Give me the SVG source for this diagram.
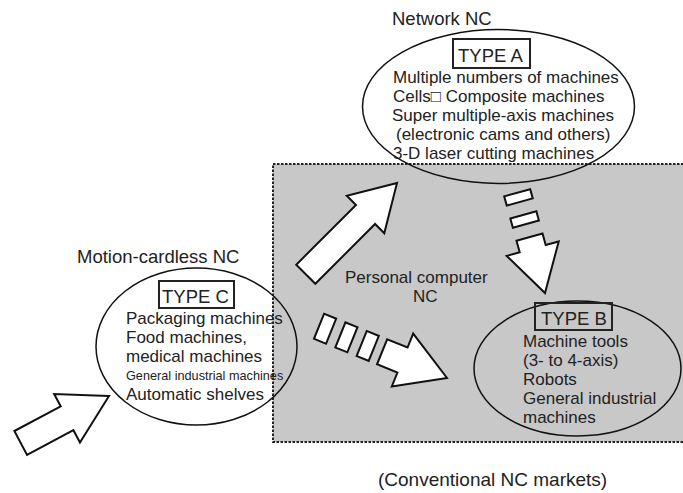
<svg xmlns="http://www.w3.org/2000/svg" width="683" height="493" viewBox="0 0 683 493">
<style>
text{font-family:"Liberation Sans",Arial,sans-serif;fill:#222}
.b{font-size:17px}
.l{font-size:18.5px}
.t{font-size:18.5px}
.s{font-size:12.7px}
.ell{fill:none;stroke:#111;stroke-width:1.5}
.box{fill:none;stroke:#222;stroke-width:2}
.arr{fill:#fff;stroke:#111;stroke-width:2;stroke-linejoin:miter}
</style>
<rect id="pc-region" x="273" y="164" width="420" height="278" fill="#c8c8c8" stroke="#222" stroke-width="2" stroke-dasharray="2.5,1.5"/>
<g id="typeA">
<ellipse class="ell" cx="498.5" cy="106.5" rx="136" ry="77"/>
<text class="l" x="392" y="25">Network NC</text>
<rect class="box" x="453" y="39" width="77" height="29"/>
<text class="t" x="458" y="62">TYPE A</text>
<text class="b" x="393" y="83">Multiple numbers of machines</text>
<text class="b" x="393" y="102">Cells□ Composite machines</text>
<text class="b" x="392" y="121">Super multiple-axis machines</text>
<text class="b" x="396" y="140">(electronic cams and others)</text>
<text class="b" x="393" y="159">3-D laser cutting machines</text>
</g>
<g id="typeB">
<ellipse class="ell" cx="577.5" cy="368.5" rx="103.5" ry="67.5"/>
<rect class="box" x="535" y="303" width="77" height="27"/>
<text class="t" x="541" y="325">TYPE B</text>
<text class="b" x="523" y="347">Machine tools</text>
<text class="b" x="523" y="366">(3- to 4-axis)</text>
<text class="b" x="523" y="385">Robots</text>
<text class="b" x="523" y="404">General industrial</text>
<text class="b" x="523" y="423">machines</text>
</g>
<g id="typeC">
<ellipse class="ell" cx="196.5" cy="346.5" rx="100.5" ry="78.5"/>
<text class="l" x="77" y="263">Motion-cardless NC</text>
<rect class="box" x="159" y="281" width="75" height="27"/>
<text class="t" x="162" y="303">TYPE C</text>
<text class="b" x="126" y="324">Packaging machines</text>
<text class="b" x="126" y="343">Food machines,</text>
<text class="b" x="126" y="362">medical machines</text>
<text class="s" x="126" y="380">General industrial machines</text>
<text class="b" x="126" y="400">Automatic shelves</text>
</g>
<g id="pc-label">
<text class="b" x="345" y="283">Personal computer</text>
<text class="b" x="413" y="302">NC</text>
</g>
<text id="conventional" class="l" x="378" y="486" style="font-size:19px">(Conventional NC markets)</text>
<g id="connectors">
<polygon class="arr" transform="translate(109,396) rotate(-28)" points="0,0 -47.5,-27.5 -47.5,-13.5 -100,-13.5 -100,13.5 -47.5,13.5 -47.5,27.5"/>
<polygon class="arr" transform="translate(397,183) rotate(-45)" points="0,0 -44.5,-26.5 -44.5,-13.5 -129,-13.5 -129,13.5 -44.5,13.5 -44.5,26.5"/>
<g transform="translate(447,378) rotate(22)">
<rect class="arr" x="-138" y="-13.5" width="13" height="27"/>
<rect class="arr" x="-115" y="-13.5" width="13" height="27"/>
<rect class="arr" x="-92" y="-13.5" width="13" height="27"/>
<polygon class="arr" points="0,0 -48,-28.5 -48,-13.5 -70,-13.5 -70,13.5 -48,13.5 -48,28.5"/>
</g>
<g transform="translate(545,293) rotate(74.5)">
<rect class="arr" x="-104" y="-13.5" width="9.5" height="27"/>
<rect class="arr" x="-81" y="-13.5" width="9.5" height="27"/>
<polygon class="arr" points="0,0 -46,-27 -46,-13.5 -58,-13.5 -58,13.5 -46,13.5 -46,27"/>
</g>
</g>
</svg>
